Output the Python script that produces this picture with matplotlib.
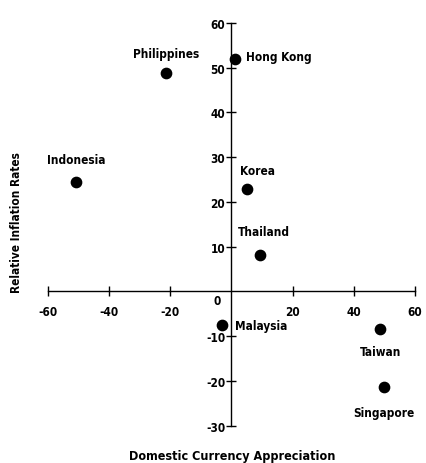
import matplotlib.pyplot as plt
import numpy as np

# ----- Data -----
countries = ["Philippines", "Hong Kong", "Indonesia", "Korea", "Thailand",
             "Malaysia", "Taiwan", "Singapore"]
appreciation = [-21.3, 1.0, -50.8, 5.0, 9.2, -3.2, 48.6, 50.0]
inflation = [48.9, 52.0, 24.5, 23.0, 8.2, -7.4, -8.3, -21.4]

x_ticks = [-60, -40, -20, 20, 40, 60]
y_ticks = [-30, -20, -10, 10, 20, 30, 40, 50, 60]

# label offsets in data units (dx, dy, ha)
label_pos = {
    "Philippines": (0, 4.3, "center"),
    "Hong Kong": (3.9, 0.5, "left"),
    "Indonesia": (0, 5.0, "center"),
    "Korea": (-2.1, 4.0, "left"),
    "Thailand": (-7.2, 5.1, "left"),
    "Malaysia": (4.2, -0.3, "left"),
    "Taiwan": (0.2, -5.2, "center"),
    "Singapore": (-0.3, -5.7, "center"),
}

plt.rcParams['font.family'] = ['DejaVu Sans']
plt.rcParams['font.stretch'] = 'condensed'
plt.rcParams['font.weight'] = 'bold'

W, H = 427, 464
fig = plt.figure(figsize=(W / 100, H / 100), dpi=100)
ax = fig.add_axes([48 / W, (H - 426.7) / H, 367 / W, (426.7 - 24) / H])

ax.scatter(appreciation, inflation, s=55, color='black', zorder=3, clip_on=False)

for name, x, y in zip(countries, appreciation, inflation):
    dx, dy, ha = label_pos[name]
    ax.text(x + dx, y + dy, name, ha=ha, va='center', fontsize=8.5, fontweight='bold')

ax.set_xlim(-60, 60)
ax.set_ylim(-30, 60)

# axes through the origin
ax.spines['left'].set_position(('data', 0))
ax.spines['bottom'].set_position(('data', 0))
ax.spines['top'].set_visible(False)
ax.spines['right'].set_visible(False)
ax.spines['left'].set_linewidth(1.0)
ax.spines['bottom'].set_linewidth(1.0)

ax.set_xticks(x_ticks)
ax.set_xticklabels([str(t) for t in x_ticks], fontsize=8.5, fontweight='bold')
ax.set_yticks(y_ticks)
ax.set_yticklabels([str(t) for t in y_ticks], fontsize=8.5, fontweight='bold')
ax.tick_params(axis='x', direction='inout', length=7, width=1, pad=6)
ax.tick_params(axis='y', direction='inout', length=7, width=1, pad=1)

# origin label
ax.text(-4.6, -2.0, "0", ha='center', va='center', fontsize=8.5, fontweight='bold')

fig.text(17 / W, 1 - 223 / H, "Relative Inflation Rates", rotation=90,
         ha='center', va='center', fontsize=8.5, fontweight='bold')
fig.text(232 / W, 1 - 457 / H, "Domestic Currency Appreciation",
         ha='center', va='center', fontsize=9, fontweight='bold')

plt.savefig("out.png", dpi=100)
